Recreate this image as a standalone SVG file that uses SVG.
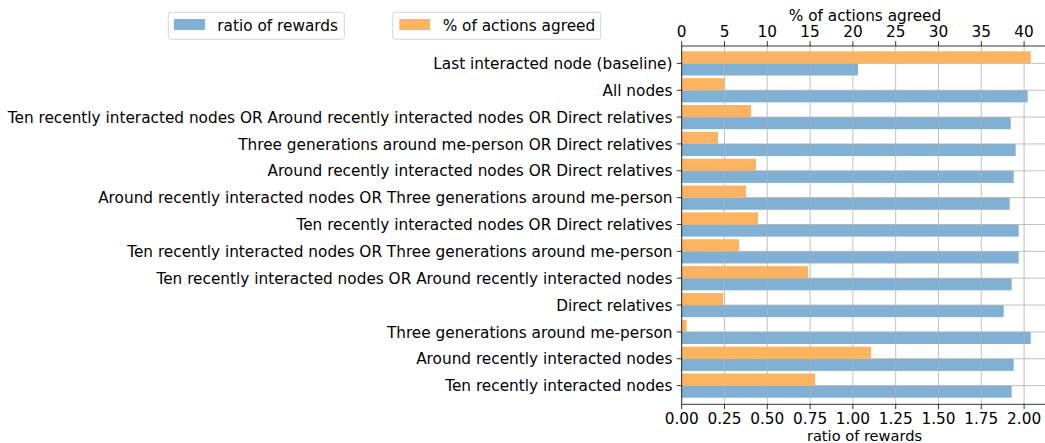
<svg xmlns="http://www.w3.org/2000/svg" width="1045" height="443" viewBox="0 0 1045 443">
<style>
text{font-family:"DejaVu Sans","Liberation Sans",sans-serif;font-size:15.3px;fill:#000}
.lab{text-anchor:end}
.tk{text-anchor:middle}
.axl{text-anchor:middle;font-size:14.6px}
.blue{fill:#80b0d4}
.orange{fill:#fdb462}
.grid{stroke:#b0b0b0;stroke-width:0.8;fill:none}
.spine{stroke:#000;stroke-width:0.8;fill:none}
.tick{stroke:#000;stroke-width:0.8}
.legend{fill:#fff;fill-opacity:0.8;stroke:#cccccc;stroke-width:0.8}
</style>
<rect width="1045" height="443" fill="#fff"/>
<g id="blue-bars">
<rect class="blue" x="681.7" y="63.4" width="176.3" height="12.1"/>
<rect class="blue" x="681.7" y="90.25" width="346" height="12.1"/>
<rect class="blue" x="681.7" y="117.1" width="329" height="12.1"/>
<rect class="blue" x="681.7" y="143.95" width="334" height="12.1"/>
<rect class="blue" x="681.7" y="170.8" width="332" height="12.1"/>
<rect class="blue" x="681.7" y="197.65" width="328" height="12.1"/>
<rect class="blue" x="681.7" y="224.5" width="337" height="12.1"/>
<rect class="blue" x="681.7" y="251.35" width="337" height="12.1"/>
<rect class="blue" x="681.7" y="278.2" width="330" height="12.1"/>
<rect class="blue" x="681.7" y="305.05" width="322" height="12.1"/>
<rect class="blue" x="681.7" y="331.9" width="349" height="12.1"/>
<rect class="blue" x="681.7" y="358.75" width="332" height="12.1"/>
<rect class="blue" x="681.7" y="385.6" width="330" height="12.1"/>
</g>
<g id="grid" class="grid">
<path d="M681.7 46V404.3M724.5 46V404.3M767.3 46V404.3M810.1 46V404.3M852.9 46V404.3M895.7 46V404.3M938.5 46V404.3M981.3 46V404.3M1024.1 46V404.3"/>
<path d="M681.7 63.4H1045M681.7 90.25H1045M681.7 117.1H1045M681.7 143.95H1045M681.7 170.8H1045M681.7 197.65H1045M681.7 224.5H1045M681.7 251.35H1045M681.7 278.2H1045M681.7 305.05H1045M681.7 331.9H1045M681.7 358.75H1045M681.7 385.6H1045"/>
</g>
<g id="orange-bars">
<rect class="orange" x="681.7" y="51.3" width="349" height="12.1"/>
<rect class="orange" x="681.7" y="78.15" width="42.6" height="12.1"/>
<rect class="orange" x="681.7" y="105" width="69.3" height="12.1"/>
<rect class="orange" x="681.7" y="131.85" width="36.3" height="12.1"/>
<rect class="orange" x="681.7" y="158.7" width="74.3" height="12.1"/>
<rect class="orange" x="681.7" y="185.55" width="64.3" height="12.1"/>
<rect class="orange" x="681.7" y="212.4" width="76.3" height="12.1"/>
<rect class="orange" x="681.7" y="239.25" width="57.3" height="12.1"/>
<rect class="orange" x="681.7" y="266.1" width="126.3" height="12.1"/>
<rect class="orange" x="681.7" y="292.95" width="41.3" height="12.1"/>
<rect class="orange" x="681.7" y="319.8" width="5" height="12.1"/>
<rect class="orange" x="681.7" y="346.65" width="189.3" height="12.1"/>
<rect class="orange" x="681.7" y="373.5" width="133.3" height="12.1"/>
</g>
<g id="axes">
<path class="spine" d="M681.7 46V404.3M681.7 46H1045M681.7 404.3H1045"/>
<path class="tick" d="M681.7 404.3v4.9M724.5 404.3v4.9M767.3 404.3v4.9M810.1 404.3v4.9M852.9 404.3v4.9M895.7 404.3v4.9M938.5 404.3v4.9M981.3 404.3v4.9M1024.1 404.3v4.9"/>
<path class="tick" d="M681.7 46v-4.9M724.5 46v-4.9M767.3 46v-4.9M810.1 46v-4.9M852.9 46v-4.9M895.7 46v-4.9M938.5 46v-4.9M981.3 46v-4.9M1024.1 46v-4.9"/>
<path class="tick" d="M681.7 63.4h-4.9M681.7 90.25h-4.9M681.7 117.1h-4.9M681.7 143.95h-4.9M681.7 170.8h-4.9M681.7 197.65h-4.9M681.7 224.5h-4.9M681.7 251.35h-4.9M681.7 278.2h-4.9M681.7 305.05h-4.9M681.7 331.9h-4.9M681.7 358.75h-4.9M681.7 385.6h-4.9"/>
</g>
<g id="bottom-axis-labels">
<text class="tk" x="681.7" y="423.8">0.00</text>
<text class="tk" x="724.5" y="423.8">0.25</text>
<text class="tk" x="767.3" y="423.8">0.50</text>
<text class="tk" x="810.1" y="423.8">0.75</text>
<text class="tk" x="852.9" y="423.8">1.00</text>
<text class="tk" x="895.7" y="423.8">1.25</text>
<text class="tk" x="938.5" y="423.8">1.50</text>
<text class="tk" x="981.3" y="423.8">1.75</text>
<text class="tk" x="1024.1" y="423.8">2.00</text>
<text class="axl" x="864.5" y="440.6">ratio of rewards</text>
</g>
<g id="top-axis-labels">
<text class="tk" x="681.7" y="37.3">0</text>
<text class="tk" x="724.5" y="37.3">5</text>
<text class="tk" x="767.3" y="37.3">10</text>
<text class="tk" x="810.1" y="37.3">15</text>
<text class="tk" x="852.9" y="37.3">20</text>
<text class="tk" x="895.7" y="37.3">25</text>
<text class="tk" x="938.5" y="37.3">30</text>
<text class="tk" x="981.3" y="37.3">35</text>
<text class="tk" x="1024.1" y="37.3">40</text>
<text class="tk" x="865" y="20.5">% of actions agreed</text>
</g>
<g id="category-labels">
<text class="lab" x="672.5" y="69">Last interacted node (baseline)</text>
<text class="lab" x="672.5" y="95.85">All nodes</text>
<text class="lab" x="672.5" y="122.7">Ten recently interacted nodes OR Around recently interacted nodes OR Direct relatives</text>
<text class="lab" x="672.5" y="149.55">Three generations around me-person OR Direct relatives</text>
<text class="lab" x="672.5" y="176.4">Around recently interacted nodes OR Direct relatives</text>
<text class="lab" x="672.5" y="203.25">Around recently interacted nodes OR Three generations around me-person</text>
<text class="lab" x="672.5" y="230.1">Ten recently interacted nodes OR Direct relatives</text>
<text class="lab" x="672.5" y="256.95">Ten recently interacted nodes OR Three generations around me-person</text>
<text class="lab" x="672.5" y="283.8">Ten recently interacted nodes OR Around recently interacted nodes</text>
<text class="lab" x="672.5" y="310.65">Direct relatives</text>
<text class="lab" x="672.5" y="337.5">Three generations around me-person</text>
<text class="lab" x="672.5" y="364.35">Around recently interacted nodes</text>
<text class="lab" x="672.5" y="391.2">Ten recently interacted nodes</text>
</g>
<g id="legend-ratio">
<rect class="legend" x="168.3" y="12.3" width="176" height="27" rx="2.5"/>
<rect class="blue" x="174" y="19" width="31" height="11"/>
<text x="217.3" y="30.8">ratio of rewards</text>
</g>
<g id="legend-actions">
<rect class="legend" x="392.7" y="12.3" width="208" height="27" rx="2.5"/>
<rect class="orange" x="399.3" y="19" width="30.7" height="11"/>
<text x="442.7" y="30.8">% of actions agreed</text>
</g>
</svg>
